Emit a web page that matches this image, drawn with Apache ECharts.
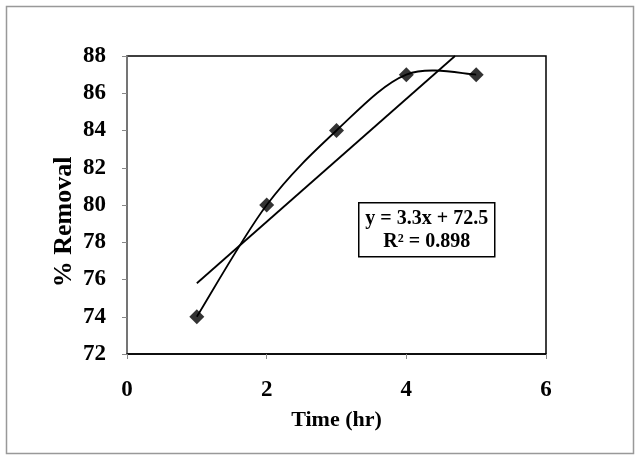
<!DOCTYPE html>
<html>
<head>
<meta charset="utf-8">
<script src="https://cdn.jsdelivr.net/npm/echarts@6/dist/echarts.min.js"></script>
<style>
  html, body { margin: 0; padding: 0; background: #fff; }
  #main { width: 636px; height: 456px; }
</style>
</head>
<body>
<div id="main"></div>
<script>
// data
var timeHr = [1, 2, 3, 4, 5];
var removal = [74, 80, 84, 87, 87];
// linear trendline shown in the box
var slope = 3.3;
var intercept = 72.5;
var r2 = 0.898;
var xTicks = [0, 2, 4, 6];
var yTicks = [72, 74, 76, 78, 80, 82, 84, 86, 88];

var font = 'Liberation Serif, Times New Roman, serif';

var points = timeHr.map(function (t, i) { return [t, removal[i]]; });
// trendline runs from first x until it hits the top of the axis (excel clips it)
var yTop = yTicks[yTicks.length - 1];
var trend = [
  [timeHr[0], slope * timeHr[0] + intercept],
  [(yTop - intercept) / slope, yTop]
];

// excel style smoothed line (catmull-rom -> bezier), done in pixel space
function smoothPath(px) {
  var d = 'M' + px[0][0] + ' ' + px[0][1];
  for (var i = 0; i < px.length - 1; i++) {
    var p0 = px[Math.max(i - 1, 0)];
    var p1 = px[i];
    var p2 = px[i + 1];
    var p3 = px[Math.min(i + 2, px.length - 1)];
    var c1x = p1[0] + (p2[0] - p0[0]) / 6, c1y = p1[1] + (p2[1] - p0[1]) / 6;
    var c2x = p2[0] - (p3[0] - p1[0]) / 6, c2y = p2[1] - (p3[1] - p1[1]) / 6;
    d += ' C' + c1x + ' ' + c1y + ' ' + c2x + ' ' + c2y + ' ' + p2[0] + ' ' + p2[1];
  }
  return d;
}

var chart = echarts.init(document.getElementById('main'), null, { renderer: 'canvas' });

var option = {
  backgroundColor: '#fff',
  animation: false,
  grid: {
    left: 127,
    right: 90,
    top: 56,
    bottom: 102,
    show: true,
    borderColor: '#000',
    borderWidth: 1.5,
    backgroundColor: 'transparent'
  },
  xAxis: {
    type: 'value',
    min: 0,
    max: 6,
    interval: 2,
    name: 'Time (hr)',
    nameLocation: 'middle',
    nameGap: 55,
    nameMoveOverlap: false,
    nameTextStyle: { fontFamily: font, fontWeight: 'bold', fontSize: 22, color: '#000' },
    axisLine: { show: true, lineStyle: { color: '#000', width: 1.5 } },
    axisTick: { show: true, inside: false, length: 5, lineStyle: { color: '#888' } },
    axisLabel: { fontFamily: font, fontWeight: 'bold', fontSize: 23, color: '#000', margin: 25 },
    splitLine: { show: false }
  },
  yAxis: {
    type: 'value',
    min: 72,
    max: 88,
    interval: 2,
    name: '% Removal',
    nameLocation: 'middle',
    nameGap: 50,
    nameMoveOverlap: false,
    nameTextStyle: {
      fontFamily: font, fontWeight: 'bold', fontSize: 26, color: '#000',
      padding: [0, 34, 0, 0]
    },
    axisLine: { show: true, lineStyle: { color: '#888', width: 1.5 } },
    axisTick: { show: true, inside: false, length: 5, lineStyle: { color: '#888' } },
    axisLabel: { fontFamily: font, fontWeight: 'bold', fontSize: 23, color: '#000', margin: 21 },
    splitLine: { show: false }
  },
  series: [
    {
      name: 'Smooth',
      type: 'custom',
      data: points,
      encode: { x: 0, y: 1 },
      renderItem: function (params, api) {
        if (params.dataIndex !== 0) return null;
        var px = points.map(function (p) { return api.coord(p); });
        return {
          type: 'path',
          shape: { pathData: smoothPath(px) },
          style: { fill: 'none', stroke: '#000', lineWidth: 1.8 }
        };
      },
      z: 2
    },
    {
      name: 'Removal',
      type: 'scatter',
      data: points,
      symbol: 'diamond',
      symbolSize: 15,
      itemStyle: { color: '#000' },
      z: 4
    },
    {
      name: 'Trend',
      type: 'line',
      data: trend,
      symbol: 'none',
      lineStyle: { color: '#000', width: 1.8 },
      z: 2
    }
  ],
  graphic: [
    {
      type: 'rect',
      left: 4, top: 4,
      shape: { width: 627, height: 447 },
      style: { fill: 'none', stroke: '#999', lineWidth: 1.5 },
      silent: true
    },
    {
      type: 'group',
      left: 358,
      top: 202,
      children: [
        {
          type: 'rect',
          shape: { width: 136, height: 54 },
          style: { fill: '#fff', stroke: '#000', lineWidth: 1.5 }
        },
        {
          type: 'text',
          x: 68, y: 16,
          style: {
            text: 'y = ' + slope + 'x + ' + intercept,
            font: 'bold 20px ' + font,
            fill: '#000',
            align: 'center',
            verticalAlign: 'middle'
          }
        },
        {
          type: 'text',
          x: 68, y: 39,
          style: {
            text: 'R² = ' + r2,
            font: 'bold 20px ' + font,
            fill: '#000',
            align: 'center',
            verticalAlign: 'middle'
          }
        }
      ]
    }
  ]
};

chart.setOption(option);
</script>
</body>
</html>
